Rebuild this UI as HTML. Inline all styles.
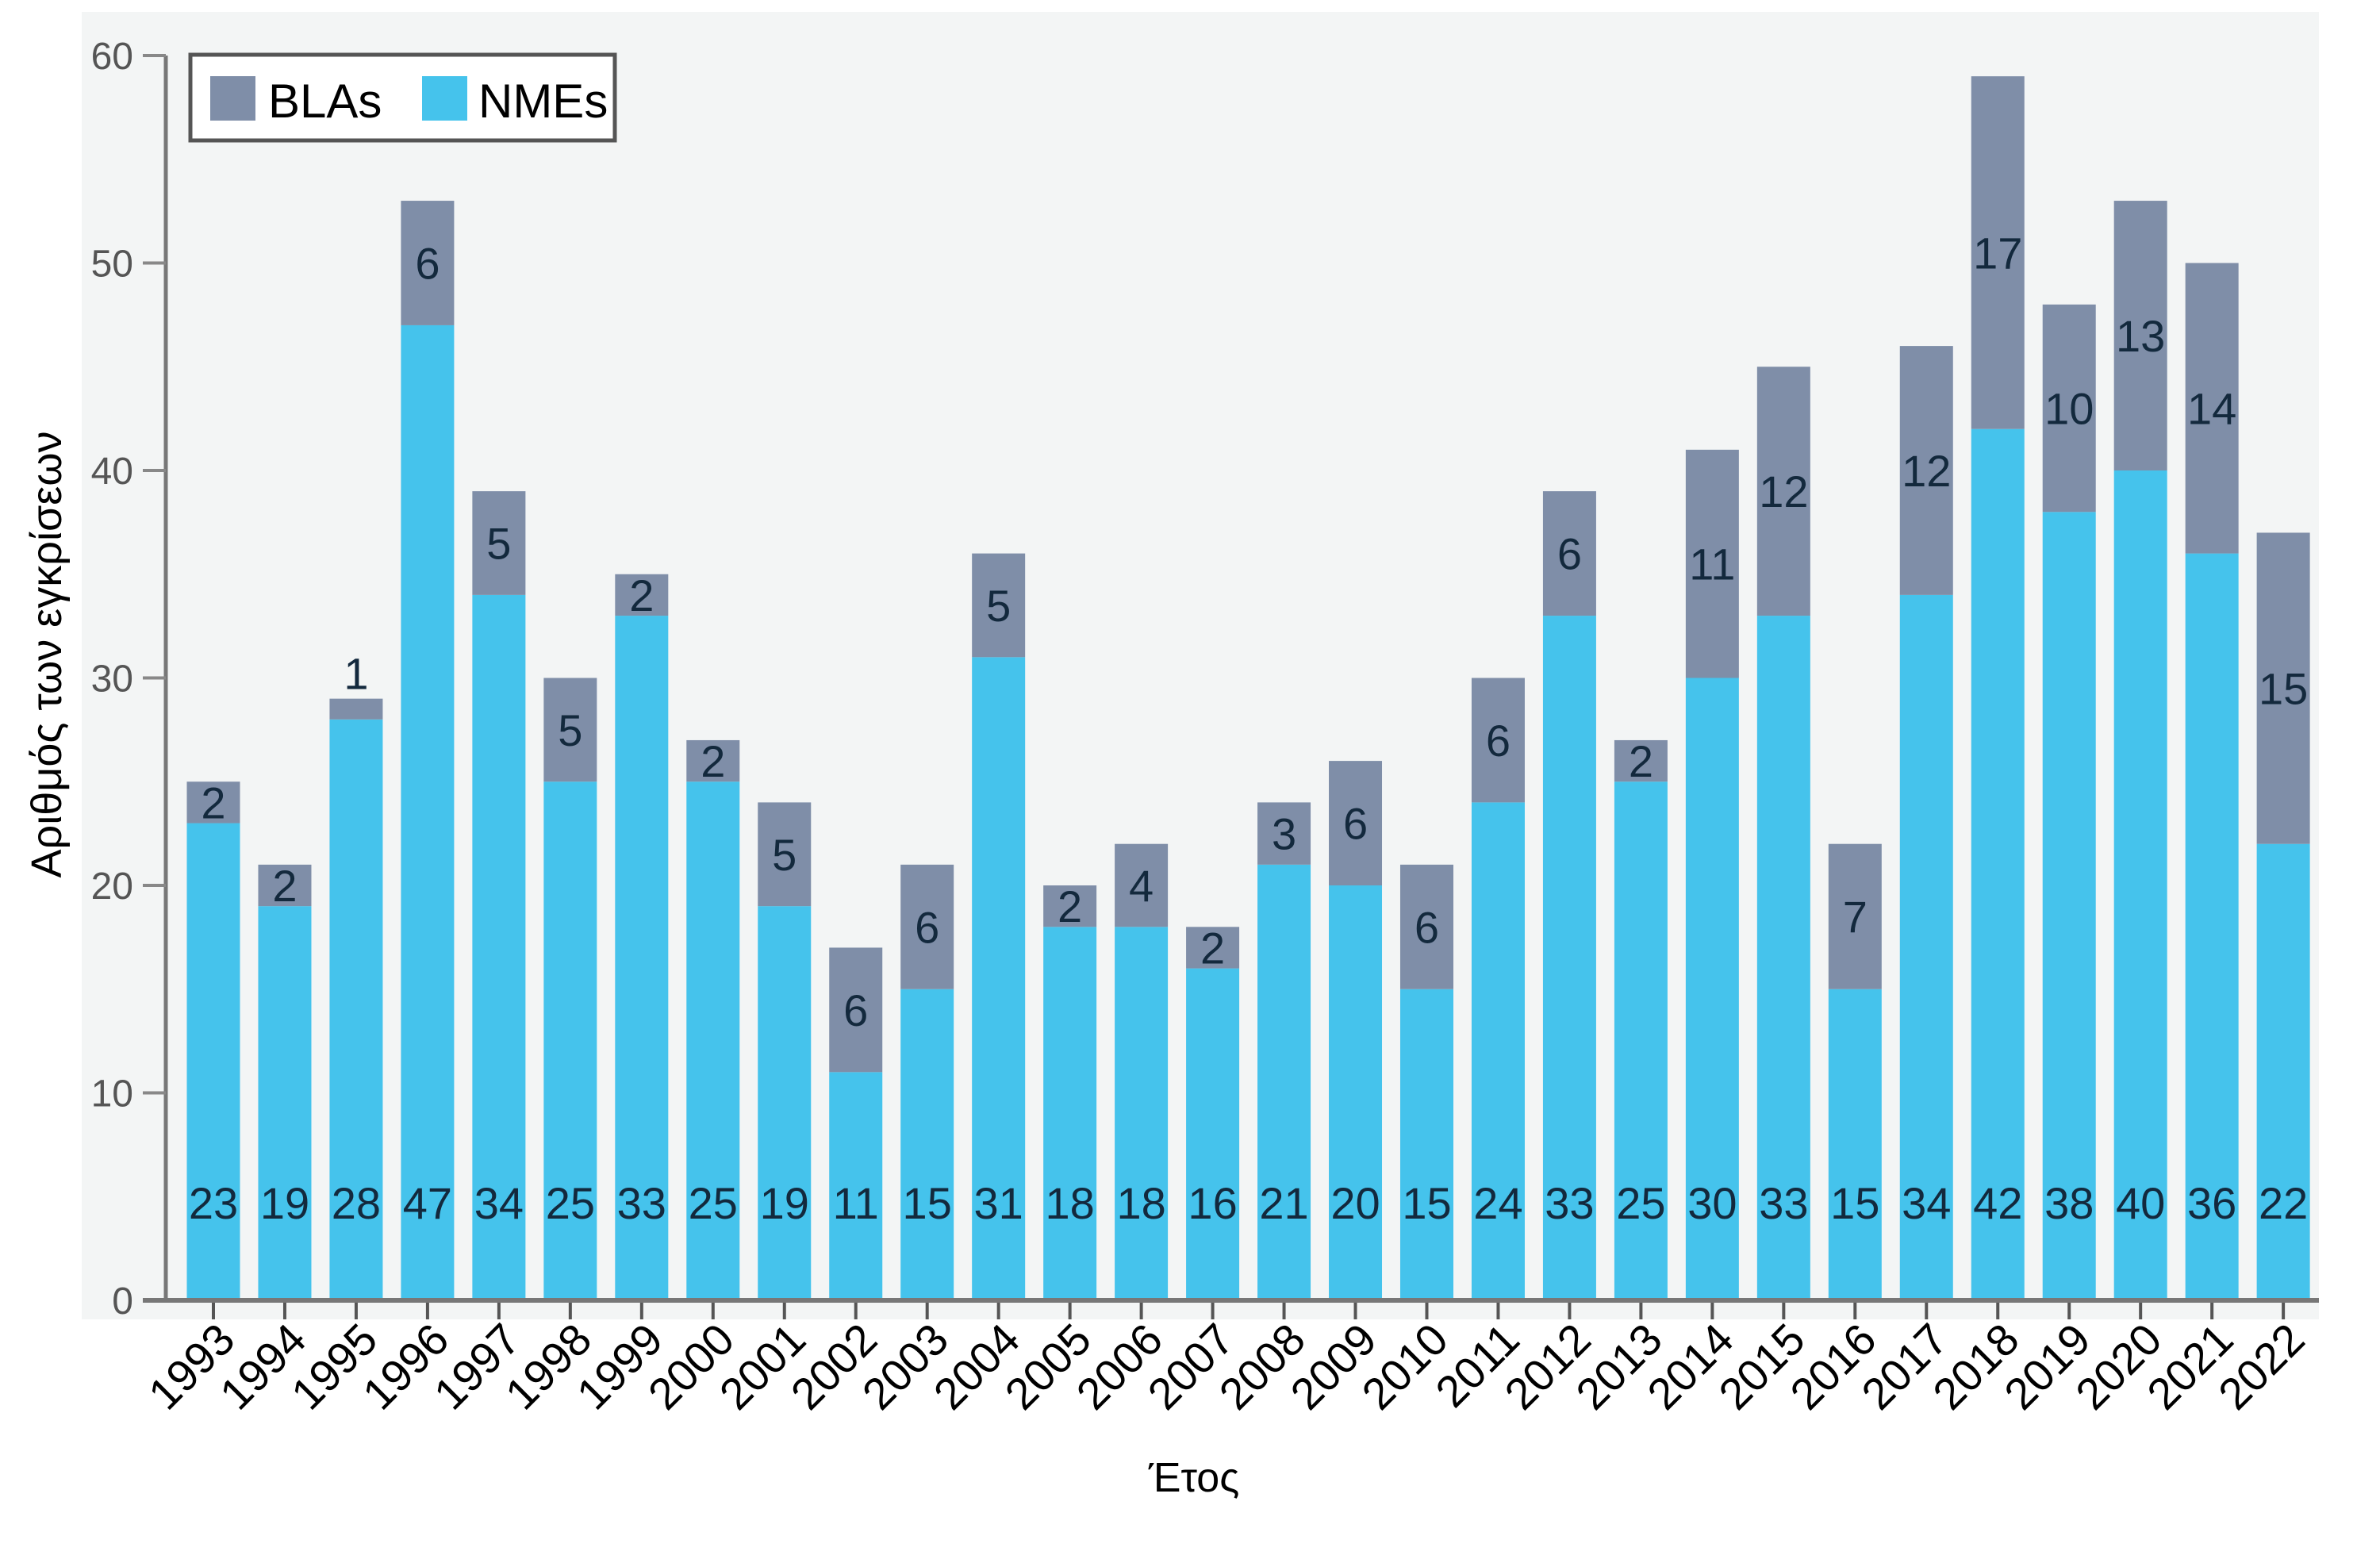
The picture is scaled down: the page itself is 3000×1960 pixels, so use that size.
<!DOCTYPE html>
<html><head><meta charset="utf-8"><style>
html,body{margin:0;padding:0;background:#fff;}
svg{display:block;}
</style></head><body>
<svg id="chart" width="3000" height="1960" viewBox="0 0 3000 1960" xmlns="http://www.w3.org/2000/svg">
<rect x="103" y="15" width="2820" height="1648" fill="#f3f5f5"/>
<g id="bars"></g>
<g id="yaxis"></g>
<g id="xaxis"></g>
<g>
<rect x="240" y="69" width="535" height="108" fill="#fff" stroke="#555" stroke-width="5"/>
<rect x="265" y="96" width="57" height="56" fill="#7f8ea8"/>
<text x="338" y="148" font-family="Liberation Sans, sans-serif" font-size="60" fill="#000">BLAs</text>
<rect x="532" y="96" width="57" height="56" fill="#45c3ec"/>
<text x="603" y="148" font-family="Liberation Sans, sans-serif" font-size="60" fill="#000">NMEs</text>
</g>
<text transform="translate(77,825) rotate(-90)" text-anchor="middle" font-family="Liberation Sans, sans-serif" font-size="54" fill="#000">Αριθμός των εγκρίσεων</text>
<text x="1505" y="1880" text-anchor="middle" font-family="Liberation Sans, sans-serif" font-size="52" fill="#000">Έτος</text>
</svg>
<script>
const years = [1993,1994,1995,1996,1997,1998,1999,2000,2001,2002,2003,2004,2005,2006,2007,2008,2009,2010,2011,2012,2013,2014,2015,2016,2017,2018,2019,2020,2021,2022];
const nmes = [23,19,28,47,34,25,33,25,19,11,15,31,18,18,16,21,20,15,24,33,25,30,33,15,34,42,38,40,36,22];
const blas = [2,2,1,6,5,5,2,2,5,6,6,5,2,4,2,3,6,6,6,6,2,11,12,7,12,17,10,13,14,15];
const yTicks = [0,10,20,30,40,50,60];

const NS = 'http://www.w3.org/2000/svg';
const y0 = 1639, yPer = 26.15;
const x0 = 269, xStep = 89.97, barW = 67;
function yScale(v){ return y0 - v*yPer; }
function xScale(i){ return x0 + i*xStep; }
function mk(tag, attrs, parent){
  const e = document.createElementNS(NS, tag);
  for (const k in attrs) e.setAttribute(k, attrs[k]);
  parent.appendChild(e);
  return e;
}
const gb = document.getElementById('bars');
const gy = document.getElementById('yaxis');
const gx = document.getElementById('xaxis');
const font = 'Liberation Sans, sans-serif';

years.forEach((yr, i) => {
  const cx = xScale(i);
  const n = nmes[i], b = blas[i];
  const r1 = mk('rect', {x: cx - barW/2, y: yScale(n), width: barW, height: yScale(0) - yScale(n), fill: '#45c3ec'}, gb);
  
  
  const r2 = mk('rect', {x: cx - barW/2, y: yScale(n + b), width: barW, height: yScale(n) - yScale(n + b), fill: '#7f8ea8'}, gb);
  
  
  const t1 = mk('text', {x: cx, y: 1536, 'text-anchor': 'middle', 'font-family': font, 'font-size': 56, fill: '#13293d'}, gb);
  t1.textContent = n;
  
  
  let ly = (yScale(n) + yScale(n + b)) / 2 + 20;
  if (b < 2) ly = yScale(n + b) - 12;
  const t2 = mk('text', {x: cx, y: ly, 'text-anchor': 'middle', 'font-family': font, 'font-size': 56, fill: '#13293d'}, gb);
  t2.textContent = b;
  
  
  const tk = mk('line', {x1: cx, x2: cx, y1: y0, y2: 1663, stroke: '#555', 'stroke-width': 4}, gx);
  
  
  const tl = mk('text', {transform: 'translate(' + (cx + 30) + ',1692) rotate(-45)', 'text-anchor': 'end', 'font-family': font, 'font-size': 56, fill: '#000'}, gx);
  tl.textContent = yr;
  
  
});

const xl = mk('line', {x1: 180, x2: 2923, y1: y0, y2: y0, stroke: '#777', 'stroke-width': 6}, gx);


const yl = mk('line', {x1: 209, x2: 209, y1: yScale(60), y2: y0, stroke: '#777', 'stroke-width': 5}, gy);


yTicks.forEach(v => {
  const t = mk('line', {x1: 180, x2: 209, y1: yScale(v), y2: yScale(v), stroke: '#888', 'stroke-width': 4}, gy);
  
  
  const l = mk('text', {x: 168, y: yScale(v) + 17, 'text-anchor': 'end', 'font-family': font, 'font-size': 48, fill: '#555'}, gy);
  l.textContent = v;
  
  
});
</script>
</body></html>
